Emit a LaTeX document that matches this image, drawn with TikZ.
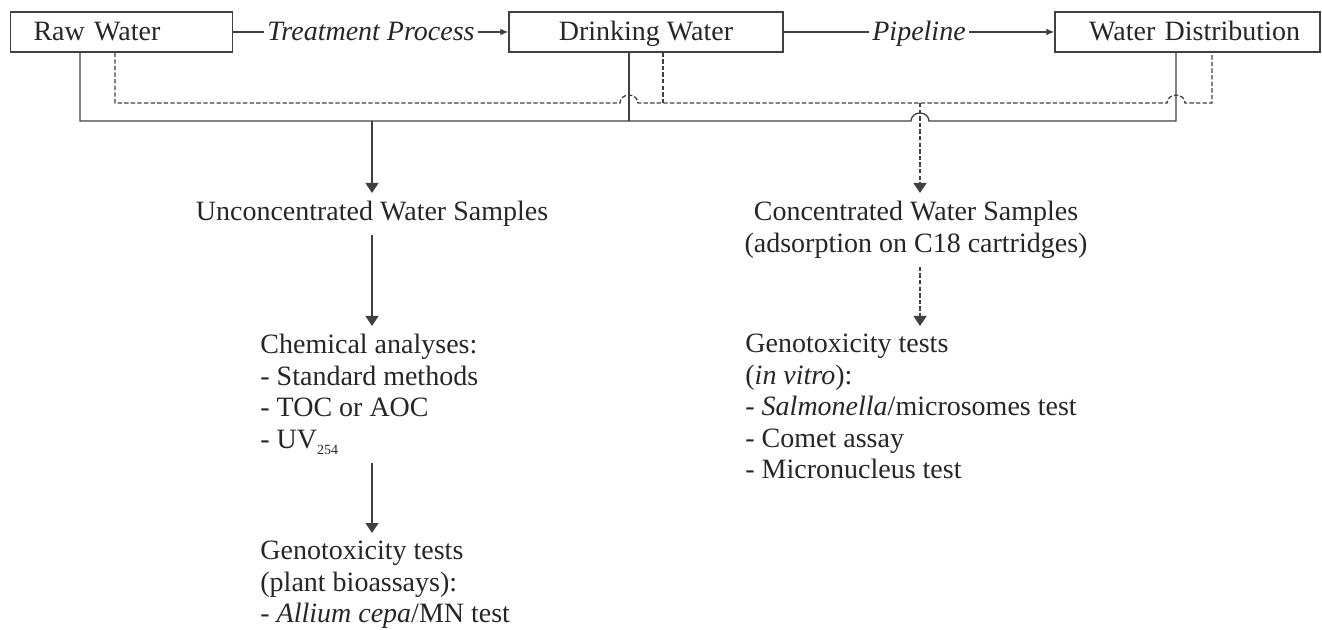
\documentclass[tikz,border=0pt]{standalone}
\usepackage{fontspec}
\setmainfont{Liberation Serif}
\usetikzlibrary{arrows.meta,calc,positioning}

\begin{document}
\begin{tikzpicture}[x=0.5pt,y=-0.5pt,
    every node/.style={font=\fontsize{14}{15.75}\selectfont,text=black!85},
    box/.style={draw=black!75,line width=0.7pt,minimum height=20pt,inner ysep=3.7pt,
      text height=10.8pt,text depth=1.8pt},
    lbl/.style={font=\fontsize{14}{15.75}\selectfont\itshape,inner xsep=1.5pt,
      text height=10.8pt,text depth=1.8pt},
    txt/.style={inner xsep=0pt,inner ysep=4pt},
    bus/.style={draw=black!75,line width=0.65pt},
    dashbus/.style={bus,dash pattern=on 2.2pt off 1.1pt},
    flow/.style={-{Triangle[length=5pt,width=6.5pt]}},
    feed/.style={-{Latex[length=4pt,width=3.5pt]}}]
    \useasboundingbox (0,0) rectangle (1322,630);

    \node[box,text width=88pt,inner xsep=11.5pt,align=left] (rawbox) at (121.5,32) {Raw Water};
    \node[box,minimum width=137pt] (drinkbox) at (646,32) {Drinking Water};
    \node[box,text width=112.5pt,inner xsep=10pt,align=right] (distbox) at (1187.5,32) {Water Distribution};
    \node[lbl] (treat) at (371,32) {Treatment Process};
    \node[lbl] (pipe) at (919,32) {Pipeline};

    \draw[bus] (rawbox) -- (treat);
    \draw[bus,feed] (treat) -- (drinkbox);
    \draw[bus] (drinkbox) -- (pipe);
    \draw[bus,feed] (pipe) -- (distbox);

    \coordinate (sw) at (80,121);
    \coordinate (sm) at (629,121);
    \coordinate (se) at (1176,121);
    \coordinate (dw) at (115,103);
    \coordinate (dm) at (663,103);
    \coordinate (de) at (1212,103);
    \coordinate (sdrop) at (372,121);
    \coordinate (ddrop) at (920,103);

    \draw[bus] (rawbox.south -| sw) -- (sw) -- ([xshift=-4.5pt]sdrop -| ddrop)
      arc[start angle=180,end angle=0,x radius=4.5pt,y radius=4pt] -- (se) -- (distbox.south -| se);
    \draw[bus] (drinkbox.south -| sm) -- (sm);
    \draw[dashbus] (rawbox.south -| dw) -- (dw) -- ([xshift=-4.5pt]dw -| sm)
      arc[start angle=180,end angle=0,x radius=4.5pt,y radius=4pt] -- ([xshift=-4.5pt]dw -| se)
      arc[start angle=180,end angle=0,x radius=4.5pt,y radius=4pt] -- (de) -- (distbox.south -| de);
    \draw[dashbus] (drinkbox.south -| dm) -- (dm);

    \node[txt,anchor=north] (unconc) at (372,193) {Unconcentrated Water Samples};
    \node[txt,anchor=north,align=center] (conc) at (916,193) {Concentrated Water Samples\\(adsorption on C18 cartridges)};
    \node[txt,anchor=north west,align=left] (chem) at (260,326) {Chemical analyses:\\- Standard methods\\- TOC or AOC\\- UV\raisebox{-3pt}{\fontsize{7}{8}\selectfont 254}};
    \node[txt,anchor=north west,align=left] (genoplant) at (260,533) {Genotoxicity tests\\(plant bioassays):\\- \textit{Allium cepa}/MN test};
    \node[txt,anchor=north west,align=left] (genovitro) at (745,326) {Genotoxicity tests\\(\textit{in vitro}):\\- \textit{Salmonella}/microsomes test\\- Comet assay\\- Micronucleus test};

    \draw[bus,flow] (sdrop) -- (sdrop |- unconc.north);
    \draw[bus,flow] (unconc.south) -- (unconc.south |- chem.north);
    \draw[bus,flow] (unconc.south |- chem.south) -- (unconc.south |- genoplant.north);
    \draw[dashbus,flow] (ddrop) -- (ddrop |- conc.north);
    \draw[dashbus,flow] (ddrop |- conc.south) -- (ddrop |- genovitro.north);
  \end{tikzpicture}
\end{document}
